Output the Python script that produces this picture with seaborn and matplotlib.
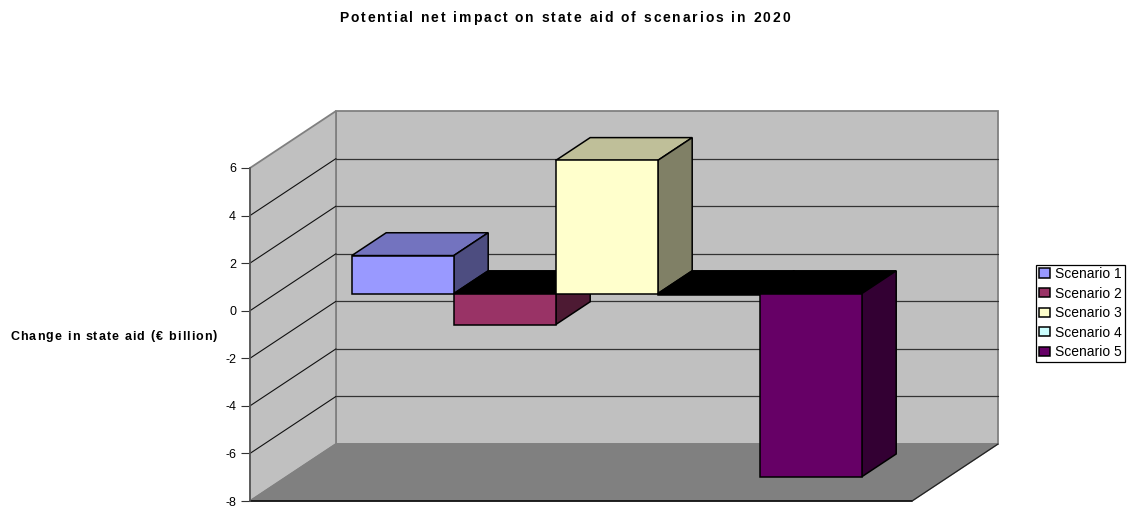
import matplotlib
matplotlib.use("Agg")
import matplotlib.pyplot as plt
import numpy as np
import pandas as pd
import seaborn as sns
from matplotlib.colors import to_rgb
from matplotlib.lines import Line2D
from matplotlib.patches import Polygon
from matplotlib.text import Text
from matplotlib.transforms import Affine2D, IdentityTransform

scenarios = ["Scenario 1", "Scenario 2", "Scenario 3", "Scenario 4", "Scenario 5"]
values = [1.6, -1.3, 5.6, -0.06, -7.7]
year = "2020"
y_ticks = [-8, -6, -4, -2, 0, 2, 4, 6]
title = "Potential net impact on state aid of scenarios in 2020"
y_label = "Change in state aid (€ billion)"
colors = ["#9999FF", "#993366", "#FFFFCC", "#CCFFFF", "#660066"]

W, H, DPI = 1132, 507, 100
DEPTH_X, DEPTH_Y = 86, 57      # full floor depth in pixels
BAR_NEAR, BAR_FAR = 0.30, 0.70 # bar position within the depth

sns.set_style("white")
plt.rcParams["font.family"] = ["Liberation Sans", "DejaVu Sans"]
plt.rcParams["axes.unicode_minus"] = False
plt.rcParams["text.color"] = "black"
plt.rcParams["axes.labelcolor"] = "black"


class TrackedText(Text):
    """One text artist drawn with extra letter spacing (tracking, in pixels)."""
    tracking = 1.1

    def draw(self, renderer):
        s, prop = self.get_text(), self.get_fontproperties()
        x, y = self.get_transform().transform(self.get_unitless_position())
        width = lambda t: renderer.get_text_width_height_descent(t, prop, False)[0] if t else 0
        total = width(s) + self.tracking * (len(s) - 1)
        shift = {"left": 0, "center": total / 2, "right": total}[self.get_ha()]
        for i, ch in enumerate(s):
            if ch == " ":
                continue
            t = Text(x - shift + width(s[:i]) + i * self.tracking, y, ch, fontproperties=prop,
                     color=self.get_color(), ha="left", va="baseline", transform=IdentityTransform())
            t.set_figure(self.get_figure())
            t.draw(renderer)


fig = plt.figure(figsize=(W / DPI, H / DPI), dpi=DPI, facecolor="white")
ax = fig.add_axes([250 / W, 6 / H, 662 / W, 333 / H])
ax.patch.set_visible(False)

df = pd.DataFrame({"year": [year] * len(values), "scenario": scenarios, "value": values})
sns.barplot(data=df, x="year", y="value", hue="scenario", palette=colors, saturation=1,
            width=510 / 662, gap=0, edgecolor="black", linewidth=1.1, ax=ax, legend=True)
handles, labels = ax.get_legend_handles_labels()
ax.get_legend().remove()

ax.set_autoscale_on(False)
ax.set_xlim(-0.5, 0.5)
ax.set_ylim(y_ticks[0], y_ticks[-1])


def px(x, v, d):
    """Display position of a data point pushed back by depth fraction d."""
    p = ax.transData.transform((x, v))
    return p[0] + d * DEPTH_X, p[1] + d * DEPTH_Y


def face(pts, fc, z, ec="black", lw=1.1):
    ax.add_patch(Polygon(pts, closed=True, fc=fc, ec=ec, lw=lw, zorder=z, clip_on=False,
                         transform=IdentityTransform(), joinstyle="miter"))


def line(a, b, color, lw, z):
    ax.add_line(Line2D([a[0], b[0]], [a[1], b[1]], color=color, lw=lw, zorder=z, clip_on=False,
                       transform=IdentityTransform()))


x0, x1 = -0.5, 0.5
lo, hi = y_ticks[0], y_ticks[-1]
WALL, FLOOR, EDGE = "#C0C0C0", "#808080", "#808080"

# walls and floor
face([px(x0, lo, 1), px(x1, lo, 1), px(x1, hi, 1), px(x0, hi, 1)], WALL, 0.5, ec=EDGE, lw=1.3)
face([px(x0, lo, 0), px(x0, lo, 1), px(x0, hi, 1), px(x0, hi, 0)], WALL, 0.6, ec=EDGE, lw=1.3)
face([px(x0, lo, 0), px(x1, lo, 0), px(x1, lo, 1), px(x0, lo, 1)], FLOOR, 0.7, ec=EDGE, lw=1.0)
line(px(x0, lo, 0), px(x1, lo, 0), "black", 1.1, 1.2)
line(px(x1, lo, 0), px(x1, lo, 1), "#222222", 0.9, 1.2)

# gridlines
for t in y_ticks[1:-1]:
    line(px(x0, t, 0), px(x0, t, 1), "#111111", 0.8, 1)
    line(px(x0, t, 1), px(x1, t, 1), "#333333", 0.9, 1)

# bars: seaborn's front faces pushed back, with top and side faces derived from them
push = Affine2D().translate(BAR_NEAR * DEPTH_X, BAR_NEAR * DEPTH_Y)
bars = [b for c in ax.containers for b in c]
for i, (bar, base) in enumerate(zip(bars, colors)):
    rgb = np.array(to_rgb(base))
    l, r = bar.get_x(), bar.get_x() + bar.get_width()
    a, b = sorted((bar.get_y(), bar.get_y() + bar.get_height()))
    z = 3 + i
    bar.set_transform(ax.transData + push)
    bar.set_zorder(z + 0.2)
    bar.set_clip_on(False)
    top_color = rgb * 0.75 if values[i] >= 0 else "black"
    face([px(l, b, BAR_NEAR), px(r, b, BAR_NEAR), px(r, b, BAR_FAR), px(l, b, BAR_FAR)], top_color, z)
    face([px(r, a, BAR_NEAR), px(r, a, BAR_FAR), px(r, b, BAR_FAR), px(r, b, BAR_NEAR)], rgb * 0.5, z + 0.1)

# axes
sns.despine(ax=ax, top=True, right=True, bottom=True)
ax.spines["left"].set_color("#555555")
ax.spines["left"].set_linewidth(1.2)
ax.set_xticks([])
ax.set_xlabel("")
ax.set_yticks(y_ticks)
ax.tick_params(axis="y", left=True, length=6.5, width=0.8, color="#333333", labelsize=9, pad=3.5,
               labelcolor="black")

ax.set_ylabel(y_label, rotation=0, ha="left", va="baseline", fontsize=9, fontweight="bold")
ax.yaxis.label.__class__ = TrackedText
ax.yaxis.set_label_coords((10.2 - 250) / 662, (507 - 339.5 - 6) / 333)

title_artist = TrackedText(339 / W, 1 - 22 / H, title, ha="left", va="baseline", fontsize=10,
                           fontweight="bold", color="black", transform=fig.transFigure)
title_artist.tracking = 1.92
fig.add_artist(title_artist)

leg = ax.legend(handles, labels, loc="upper left", bbox_to_anchor=(1036 / W, 1 - 264.5 / H),
                bbox_transform=fig.transFigure, borderaxespad=0, frameon=True, fancybox=False,
                edgecolor="black", framealpha=1, fontsize=10, handlelength=0.8, handleheight=0.65,
                handletextpad=0.4, labelspacing=0.4, borderpad=0.18)
leg.get_frame().set_linewidth(0.9)
leg.set_zorder(20)

fig.savefig("out.png", dpi=DPI)
